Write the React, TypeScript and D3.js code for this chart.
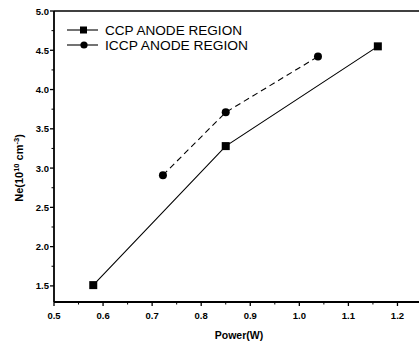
import React from "react";
import * as d3 from "d3";

const ccpX = [0.58, 0.85, 1.16];
const ccpY = [1.51, 3.28, 4.55];
const iccpX = [0.722, 0.85, 1.038];
const iccpY = [2.91, 3.71, 4.42];
const xTicks = [0.5, 0.6, 0.7, 0.8, 0.9, 1.0, 1.1, 1.2];
const yTicks = [1.5, 2.0, 2.5, 3.0, 3.5, 4.0, 4.5, 5.0];
const xMinor = [0.55, 0.65, 0.75, 0.85, 0.95, 1.05, 1.15];
const yMinor = [1.75, 2.25, 2.75, 3.25, 3.75, 4.25, 4.75];
const legendLabels = ["CCP ANODE REGION", "ICCP ANODE REGION"];

export default function App() {
  const W = 419, H = 349;
  const x = d3.scaleLinear().domain([0.5, 1.25]).range([54, 422]);
  const y = d3.scaleLinear().domain([1.295, 5.0]).range([302, 11]);
  const line = d3.line<[number, number]>().x(d => x(d[0])).y(d => y(d[1]));
  const ccp: [number, number][] = ccpX.map((v, i) => [v, ccpY[i]]);
  const iccp: [number, number][] = iccpX.map((v, i) => [v, iccpY[i]]);
  const font = "'Liberation Sans', Arial, sans-serif";
  const x0 = x(0.5), yb = y.range()[0], yt = y.range()[1];
  return (
    <svg width={W} height={H} style={{ position: "absolute", left: 0, top: 0, background: "#fff" }}>
      <rect width={W} height={H} fill="#fff" />
      {/* frame */}
      <line x1={x0} x2={W} y1={yt} y2={yt} stroke="#000" strokeWidth={1.5} />
      <line x1={x0} x2={W} y1={yb} y2={yb} stroke="#000" strokeWidth={1.8} />
      <line x1={x0} x2={x0} y1={yt} y2={yb} stroke="#000" strokeWidth={1.8} />
      {xTicks.map(t => (
        <g key={"xt" + t}>
          <line x1={x(t)} x2={x(t)} y1={yb} y2={yb + 4} stroke="#000" strokeWidth={1.3} />
          <text x={x(t)} y={yb + 17} textAnchor="middle" fontFamily={font} fontWeight="bold" fontSize={9.5}>{t.toFixed(1)}</text>
        </g>
      ))}
      {xMinor.map(t => (
        <line key={"xm" + t} x1={x(t)} x2={x(t)} y1={yb} y2={yb + 2.5} stroke="#000" strokeWidth={1} />
      ))}
      {yTicks.map(t => (
        <g key={"yt" + t}>
          <line x1={x0 - 4} x2={x0} y1={y(t)} y2={y(t)} stroke="#000" strokeWidth={1.3} />
          <text x={x0 - 5} y={y(t) + 3.5} textAnchor="end" fontFamily={font} fontWeight="bold" fontSize={9.5}>{t.toFixed(1)}</text>
        </g>
      ))}
      {yMinor.map(t => (
        <line key={"ym" + t} x1={x0 - 2.5} x2={x0} y1={y(t)} y2={y(t)} stroke="#000" strokeWidth={1} />
      ))}
      {/* axis titles */}
      <text x={239} y={339} textAnchor="middle" fontFamily={font} fontWeight="bold" fontSize={10.5}>Power(W)</text>
      <text transform="translate(23,168) rotate(-90)" textAnchor="middle" fontFamily={font} fontWeight="bold" fontSize={11}>
        Ne(10<tspan dy={-4} fontSize={7.5}>10</tspan><tspan dy={4}> cm</tspan><tspan dy={-4} fontSize={7.5}>-3</tspan><tspan dy={4}>)</tspan>
      </text>
      {/* series */}
      <path d={line(ccp) || ""} fill="none" stroke="#000" strokeWidth={1.1} />
      <path d={line(iccp) || ""} fill="none" stroke="#000" strokeWidth={1.1} strokeDasharray="6,4" />
      {ccp.map((p, i) => (
        <rect key={"s" + i} x={x(p[0]) - 4} y={y(p[1]) - 4} width={8} height={8} fill="#000" />
      ))}
      {iccp.map((p, i) => (
        <circle key={"c" + i} cx={x(p[0])} cy={y(p[1])} r={4} fill="#000" />
      ))}
      {/* legend */}
      {legendLabels.map((lab, i) => {
        const ly = 30 + i * 15;
        return (
          <g key={lab}>
            <line x1={67} x2={98} y1={ly} y2={ly} stroke="#000" strokeWidth={1.1} />
            {i === 0 ? (
              <rect x={80} y={ly - 3.5} width={7} height={7} fill="#000" />
            ) : (
              <circle cx={84} cy={ly} r={3.6} fill="#000" />
            )}
            <text x={105} y={ly + 4.5} fontFamily={font} fontSize={12.3} textLength={i === 0 ? 137 : 143} lengthAdjust="spacingAndGlyphs">{lab}</text>
          </g>
        );
      })}
    </svg>
  );
}
